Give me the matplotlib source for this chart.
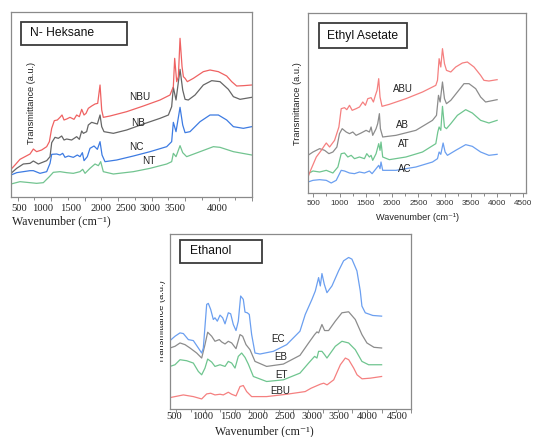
import numpy as np
import matplotlib
matplotlib.use("Agg")
import matplotlib.pyplot as plt
from matplotlib.patches import Rectangle
from matplotlib.transforms import Bbox

# ---- N-Heksane (wavenumber cm-1, transmittance a.u.) ----
nbu_x = [400, 460, 534, 609, 684, 734, 783, 858, 933, 973, 1008, 1047, 1092, 1132, 1162, 1192, 1232, 1281, 1341,
         1381, 1421, 1456, 1491, 1521, 1555, 1605, 1655, 1695, 1730, 1755, 1779, 1879, 2128, 2377, 2626, 2775,
         2825, 2845, 2875, 2900, 2925, 2955, 2975, 3000, 3034, 3124, 3273, 3373, 3498, 3622, 3697, 3771, 3871, 3996]
nbu_y = [83, 96, 113, 121, 129, 144, 136, 141, 151, 166, 206, 229, 231, 239, 246, 231, 234, 239, 233,
         246, 241, 263, 246, 251, 266, 273, 279, 281, 336, 261, 239, 243, 256, 273, 291, 306,
         331, 416, 346, 361, 476, 391, 361, 356, 346, 356, 376, 381, 376, 363, 346, 333, 334, 336]
nb_x = [400, 485, 584, 684, 734, 808, 933, 983, 1008, 1057, 1107, 1157, 1192, 1232, 1306, 1381, 1421, 1456, 1481,
        1530, 1555, 1605, 1655, 1690, 1730, 1755, 1789, 1929, 2128, 2377, 2626, 2751, 2800, 2825, 2865, 2925,
        2965, 3000, 3049, 3149, 3273, 3398, 3522, 3647, 3722, 3821, 3996]
nb_y = [71, 86, 99, 101, 108, 99, 109, 121, 163, 179, 176, 183, 171, 174, 171, 181, 173, 198, 191,
        196, 216, 224, 221, 219, 246, 211, 196, 191, 201, 219, 236, 246, 271, 329, 291, 383,
        321, 293, 291, 306, 336, 349, 346, 323, 301, 293, 299]
nc_x = [400, 485, 584, 684, 734, 833, 933, 983, 1008, 1082, 1132, 1172, 1207, 1257, 1331, 1391, 1431, 1466, 1491,
        1540, 1580, 1640, 1690, 1730, 1760, 1804, 1979, 2228, 2477, 2726, 2800, 2825, 2865, 2925, 2965, 3000,
        3074, 3224, 3373, 3498, 3622, 3722, 3871, 3996]
nc_y = [66, 73, 76, 79, 79, 71, 76, 101, 128, 129, 126, 131, 119, 123, 119, 126, 121, 133, 109,
        121, 146, 153, 143, 166, 126, 106, 111, 123, 136, 151, 166, 224, 196, 269, 216, 193,
        196, 226, 246, 246, 231, 211, 206, 211]
nt_x = [400, 534, 684, 783, 883, 973, 1032, 1132, 1232, 1331, 1431, 1471, 1506, 1580, 1655, 1705, 1740, 1779,
        1929, 2228, 2477, 2726, 2800, 2825, 2865, 2925, 2965, 3024, 3224, 3423, 3522, 3722, 3996]
nt_y = [39, 46, 43, 41, 43, 61, 74, 76, 73, 71, 76, 83, 71, 86, 99, 94, 106, 76,
        69, 76, 86, 99, 106, 131, 121, 154, 133, 121, 136, 151, 149, 136, 126]

# ---- Ethyl Asetate ----
abu_x = [400, 463, 558, 653, 716, 748, 811, 906, 988, 1032, 1095, 1139, 1190, 1241, 1316, 1380, 1443, 1493, 1538,
         1601, 1645, 1683, 1715, 1746, 1771, 1809, 1948, 2264, 2580, 2833, 2865, 2896, 2928, 2960, 2998, 3036,
         3118, 3212, 3339, 3434, 3560, 3686, 3749, 3844, 4000]
abu_y = [48, 73, 108, 128, 143, 150, 138, 158, 198, 253, 256, 250, 263, 248, 253, 258, 273, 263, 283,
         286, 273, 293, 308, 343, 288, 260, 266, 283, 303, 323, 338, 403, 378, 433, 388, 368,
         363, 378, 390, 393, 378, 353, 338, 336, 340]
ab_x = [400, 495, 621, 716, 798, 874, 950, 1000, 1051, 1127, 1190, 1253, 1316, 1411, 1506, 1569, 1601, 1632, 1696,
        1727, 1759, 1778, 1822, 2075, 2454, 2770, 2846, 2884, 2915, 2960, 2998, 3036, 3118, 3244, 3370, 3465,
        3592, 3686, 3781, 4000]
ab_y = [113, 123, 133, 128, 118, 123, 138, 178, 193, 183, 178, 183, 173, 180, 188, 183, 198, 173, 193,
        208, 238, 193, 168, 173, 188, 218, 233, 293, 273, 333, 283, 268, 278, 303, 328, 328,
        313, 288, 273, 280]
at_x = [400, 495, 621, 748, 874, 969, 1032, 1095, 1158, 1222, 1285, 1380, 1474, 1519, 1569, 1601, 1632, 1696, 1746,
        1771, 1790, 1822, 1948, 2264, 2580, 2833, 2871, 2896, 2928, 2960, 2998, 3036, 3118, 3244, 3402, 3528,
        3686, 3844, 4000]
at_y = [58, 66, 63, 68, 60, 78, 118, 120, 108, 113, 103, 108, 103, 118, 108, 113, 98, 118, 148,
        128, 153, 108, 100, 108, 123, 148, 183, 198, 188, 260, 198, 193, 208, 233, 250, 240,
        218, 210, 218]
ac_x = [400, 495, 621, 748, 842, 937, 1032, 1095, 1190, 1285, 1380, 1474, 1569, 1620, 1696, 1746, 1771, 1790, 1822,
        2075, 2454, 2770, 2865, 2896, 2928, 2972, 3010, 3054, 3212, 3402, 3528, 3686, 3844, 4000]
ac_y = [33, 38, 40, 38, 30, 38, 68, 66, 60, 58, 63, 60, 66, 58, 73, 83, 73, 93, 68,
        68, 78, 93, 103, 123, 116, 150, 123, 113, 128, 145, 140, 123, 113, 116]

# ---- Ethanol ----
ec_x = [400, 485, 570, 627, 712, 797, 882, 939, 967, 1024, 1052, 1092, 1137, 1165, 1205, 1251, 1296, 1336, 1392,
        1432, 1477, 1523, 1562, 1602, 1647, 1676, 1715, 1749, 1789, 1846, 1931, 2158, 2385, 2611, 2701, 2815,
        2872, 2900, 2928, 2957, 2985, 3025, 3070, 3155, 3268, 3353, 3439, 3495, 3580, 3637, 3665, 3722, 3850, 4000]
ec_y = [204, 217, 227, 225, 207, 204, 182, 167, 182, 312, 315, 297, 267, 272, 262, 280, 272, 254, 287,
        284, 252, 234, 262, 337, 327, 289, 287, 282, 222, 167, 164, 172, 192, 232, 282, 327,
        352, 372, 392, 367, 404, 372, 347, 367, 412, 442, 452, 447, 412, 352, 307, 287, 279, 277]
eb_x = [400, 485, 570, 655, 740, 854, 939, 995, 1041, 1109, 1165, 1239, 1279, 1336, 1392, 1449, 1523, 1591, 1636,
        1693, 1761, 1846, 2044, 2328, 2611, 2758, 2860, 2900, 2928, 2985, 3030, 3098, 3212, 3325, 3439, 3552,
        3665, 3750, 3870, 4000]
eb_y = [182, 187, 197, 192, 182, 167, 152, 192, 229, 217, 202, 207, 200, 194, 202, 197, 180, 222, 217,
        192, 177, 142, 127, 134, 160, 197, 222, 230, 227, 252, 234, 234, 262, 287, 290, 267,
        222, 197, 184, 182]
et_x = [400, 485, 570, 684, 797, 882, 939, 995, 1041, 1109, 1165, 1251, 1336, 1392, 1449, 1506, 1562, 1619, 1676,
        1732, 1818, 2044, 2328, 2611, 2758, 2860, 2900, 2928, 2985, 3030, 3070, 3212, 3325, 3439, 3552, 3665,
        3779, 4000]
et_y = [127, 132, 147, 144, 137, 112, 102, 122, 149, 140, 127, 132, 127, 142, 137, 122, 157, 167, 154,
        134, 97, 82, 87, 107, 137, 157, 152, 172, 172, 162, 152, 187, 202, 197, 177, 142,
        132, 132]
ebu_x = [400, 485, 627, 797, 939, 1024, 1092, 1165, 1251, 1307, 1392, 1449, 1523, 1591, 1647, 1704, 1789, 2044,
         2385, 2700, 2800, 2958, 3015, 3072, 3185, 3298, 3383, 3440, 3525, 3582, 3667, 3809, 4000]
ebu_y = [34, 37, 42, 37, 30, 45, 47, 42, 44, 42, 50, 44, 39, 67, 70, 52, 37, 37,
         44, 52, 62, 74, 77, 72, 87, 132, 152, 147, 122, 102, 90, 92, 97]

# tick labels pasted over panels 1 and 3 (data x where they sit)
p1_lab = ["500", "1000", "1500", "2000", "2500", "3000", "3500", "4000"]
p1_lab_x = [515, 878, 1296, 1741, 2118, 2476, 2850, 3485]
p3_lab = ["500", "1000", "1500", "2000", "2500", "3000", "3500", "4000", "4500"]
p3_lab_x = [468, 961, 1438, 1897, 2356, 2815, 3275, 3751, 4260]

W, H = 534, 437
fig = plt.figure(figsize=(W / 100, H / 100), dpi=100)

RED, GRAY, BLUE, GREEN = "#ef6262", "#666666", "#3d7be2", "#72c490"
RED2, GRAY2, BLUE2, GREEN2 = "#f58080", "#8c8c8c", "#6b9ff0", "#6fc58f"
FRAME = "#8a8a8a"
SERIF = ["Liberation Serif", "DejaVu Serif"]
SANS = "Liberation Sans"
XLAB = "Wavenumber (cm\u207b\u00b9)"


def px_axes(l, t, r, b):
    return fig.add_axes([l / W, 1 - b / H, (r - l) / W, (b - t) / H])


def style(ax):
    for s in ax.spines.values():
        s.set_color(FRAME)
        s.set_linewidth(0.9)
    ax.set_yticks([])
    ax.tick_params(axis="x", which="both", direction="out", color=FRAME, width=0.7)
    ax.tick_params(axis="x", which="major", length=3)
    ax.tick_params(axis="x", which="minor", length=2)


def title_box(l, t, r, b, label, tx):
    fig.add_artist(Rectangle((l / W, 1 - b / H), (r - l) / W, (b - t) / H, transform=fig.transFigure,
                             fill=False, edgecolor="#3a3a3a", linewidth=1.3))
    fig.text(tx / W, 1 - (t + b) / 2 / H, label, fontsize=8.7, family=SANS, va="center", ha="left", color="#111111")


lw = 0.9

# panel 1
ax1 = px_axes(11, 12, 252, 197)
ax1.plot(nt_x, nt_y, color=GREEN, lw=lw)
ax1.plot(nc_x, nc_y, color=BLUE, lw=lw)
ax1.plot(nb_x, nb_y, color=GRAY, lw=lw)
ax1.plot(nbu_x, nbu_y, color=RED, lw=lw)
ax1.set_xlim(400, 4000)
ax1.set_ylim(0, 555)
ax1.set_xticks(np.arange(500, 4001, 500))
ax1.set_xticks(np.arange(750, 4000, 500), minor=True)
ax1.set_xticklabels([])
style(ax1)
for lab, x in zip(p1_lab, p1_lab_x):
    ax1.text(x, -0.06, lab, transform=ax1.get_xaxis_transform(), ha="center", va="center",
             family=SERIF, fontsize=7.6, color="#222222")
for lab, x, y in [("NBU", 2327, 301), ("NB", 2302, 221), ("NC", 2278, 151), ("NT", 2452, 109)]:
    ax1.text(x, y, lab, family=SANS, fontsize=7.2, ha="center", va="center", color="#222222")
fig.text(32 / W, 1 - 103 / H, "Transmittance (a.u.)", rotation=90, family=SANS, fontsize=6.6,
         ha="center", va="center", color="#222222")
fig.text(12 / W, 1 - 224 / H, XLAB, family=SERIF, fontsize=8.6, ha="left",
         va="baseline", color="#222222")
title_box(21, 22, 127, 45, "N- Heksane", 30)

# panel 2
ax2 = px_axes(308, 13, 526, 193)
ax2.plot(ac_x, ac_y, color=BLUE2, lw=lw)
ax2.plot(at_x, at_y, color=GREEN2, lw=lw)
ax2.plot(ab_x, ab_y, color=GRAY2, lw=lw)
ax2.plot(abu_x, abu_y, color=RED2, lw=lw)
ax2.set_xlim(400, 4550)
ax2.set_ylim(0, 540)
ax2.set_xticks(np.arange(500, 4501, 500))
ax2.set_xticks(np.arange(750, 4500, 500), minor=True)
style(ax2)
for t in ax2.get_xticklabels():
    t.set_fontfamily(SANS)
    t.set_fontsize(5.9)
    t.set_color("#333333")
ax2.tick_params(axis="x", pad=2)
for lab, x, y in [("ABU", 2201, 313), ("AB", 2201, 203), ("AT", 2233, 146), ("AC", 2233, 73)]:
    ax2.text(x, y, lab, family=SANS, fontsize=7, ha="center", va="center", color="#222222")
fig.text(298 / W, 1 - 103.5 / H, "Transmittance (a.u.)", rotation=90, family=SANS, fontsize=6.7,
         ha="center", va="center", color="#222222")
fig.text(418 / W, 1 - 217 / H, XLAB, family=[SANS, "DejaVu Sans"], fontsize=6.6, ha="center",
         va="center", color="#222222")
title_box(319, 23, 407, 48, "Ethyl Asetate", 327)

# panel 3
ax3 = px_axes(170, 234, 411, 409)
ax3.plot(ebu_x, ebu_y, color=RED2, lw=lw)
ax3.plot(et_x, et_y, color=GREEN2, lw=lw)
ax3.plot(eb_x, eb_y, color=GRAY2, lw=lw)
ax3.plot(ec_x, ec_y, color=BLUE2, lw=lw)
ax3.set_xlim(400, 4500)
ax3.set_ylim(0, 522)
ax3.set_xticks(np.arange(500, 4501, 500))
ax3.set_xticks(np.arange(750, 4500, 500), minor=True)
ax3.set_xticklabels([])
style(ax3)
for lab, x in zip(p3_lab, p3_lab_x):
    ax3.text(x, -0.045, lab, transform=ax3.get_xaxis_transform(), ha="center", va="center",
             family=SERIF, fontsize=7.6, color="#222222")
for lab, x, y in [("EC", 2243, 210), ("EB", 2282, 155), ("ET", 2299, 100), ("EBU", 2282, 55)]:
    ax3.text(x, y, lab, family=SANS, fontsize=7, ha="center", va="center", color="#222222")
yl = fig.text(161.5 / W, 1 - 322 / H, "Transmittance (a.u.)", rotation=90, family=SANS, fontsize=6.7,
              ha="center", va="center", color="#222222")
yl.set_clip_box(Bbox([[160, 0], [W, H]]))
yl.set_clip_on(True)
fig.text(215 / W, 1 - 434.5 / H, XLAB, family=SERIF, fontsize=8.6, ha="left",
         va="baseline", color="#222222")
title_box(180, 240, 262, 263, "Ethanol", 190)

fig.savefig("out.png", dpi=100)
